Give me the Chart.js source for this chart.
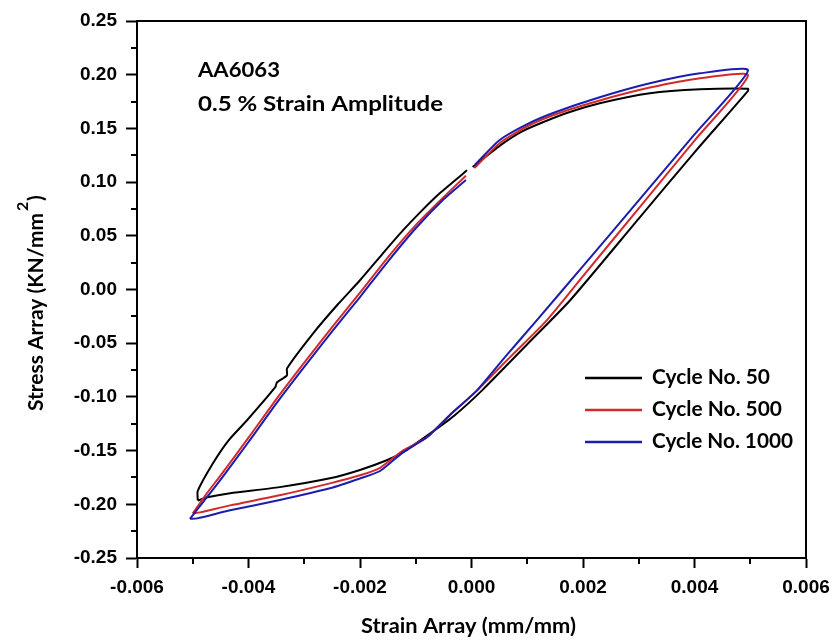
<!DOCTYPE html>
<html>
<head>
<meta charset="utf-8">
<script src="https://cdn.jsdelivr.net/npm/chart.js@4.4.1/dist/chart.umd.min.js"></script>
<style>
  html, body { margin: 0; padding: 0; background: #fff; }
  #wrap { width: 832px; height: 642px; }
</style>
</head>
<body>
<div id="wrap"><canvas id="c" width="832" height="642"></canvas></div>
<script>
// hysteresis loops: upper branch first, then lower branch back to the start
// a null stress marks the small break in the upper branch near zero strain
const cycle50Strain = [-0.00491, -0.00491, -0.00464, -0.00435, -0.00403, -0.00352, -0.00349, -0.00331, -0.00331, -0.00284, -0.00240, -0.00200, -0.00160, -0.00123, -0.00090, -0.00057, -0.00008, -0.00003, 0.00002, 0.00051, 0.00090, 0.00128, 0.00175, 0.00230, 0.00320, 0.00410, 0.00496,
  0.00496, 0.00400, 0.00300, 0.00177, 0.00100, 0.00019, -0.00030, -0.00074, -0.00123, -0.00152, -0.00200, -0.00254, -0.00344, -0.00433, -0.00474, -0.00491];
const cycle50Stress = [-0.1965, -0.1875, -0.1620, -0.1400, -0.1220, -0.0910, -0.0866, -0.0800, -0.0735, -0.0408, -0.0140, 0.0086, 0.0330, 0.0550, 0.0730, 0.0896, 0.1110, null, 0.1140, 0.1340, 0.1470, 0.1557, 0.1650, 0.1734, 0.1827, 0.1864, 0.1870,
  0.1850, 0.1277, 0.0660, -0.0100, -0.0510, -0.0939, -0.1170, -0.1340, -0.1516, -0.1590, -0.1680, -0.1758, -0.1840, -0.1897, -0.1935, -0.1965];

const cycle500Strain = [-0.00500, -0.00475, -0.00450, -0.00400, -0.00350, -0.00300, -0.00250, -0.00200, -0.00150, -0.00100, -0.00050, -0.00010, -0.00003, 0.00005, 0.00050, 0.00100, 0.00150, 0.00230, 0.00320, 0.00410, 0.00496,
  0.00400, 0.00300, 0.00200, 0.00135, 0.00070, 0.00010, -0.00039, -0.00080, -0.00123, -0.00164, -0.00200, -0.00254, -0.00344, -0.00433, -0.00487, -0.00500];
const cycle500Stress = [-0.2085, -0.1900, -0.1730, -0.1380, -0.1020, -0.0680, -0.0350, -0.0030, 0.0300, 0.0600, 0.0860, 0.1060, null, 0.1130, 0.1360, 0.1520, 0.1630, 0.1760, 0.1880, 0.1967, 0.1994,
  0.1387, 0.0756, 0.0124, -0.0287, -0.0625, -0.0939, -0.1170, -0.1376, -0.1500, -0.1660, -0.1730, -0.1805, -0.1916, -0.2010, -0.2075, -0.2085];

const cycle1000Strain = [-0.00505, -0.00480, -0.00450, -0.00400, -0.00350, -0.00300, -0.00250, -0.00200, -0.00150, -0.00100, -0.00050, -0.00010, -0.00003, 0.00006, 0.00050, 0.00100, 0.00150, 0.00230, 0.00320, 0.00410, 0.00496,
  0.00400, 0.00300, 0.00200, 0.00117, 0.00060, 0.00010, -0.00039, -0.00080, -0.00123, -0.00164, -0.00200, -0.00254, -0.00344, -0.00433, -0.00492, -0.00505];
const cycle1000Stress = [-0.2135, -0.1970, -0.1770, -0.1420, -0.1060, -0.0720, -0.0390, -0.0070, 0.0260, 0.0570, 0.0840, 0.1020, null, 0.1160, 0.1390, 0.1540, 0.1650, 0.1790, 0.1920, 0.2013, 0.2040,
  0.1444, 0.0830, 0.0217, -0.0287, -0.0630, -0.0939, -0.1170, -0.1376, -0.1516, -0.1690, -0.1760, -0.1851, -0.1960, -0.2056, -0.2131, -0.2135];

const seriesLabels = ['Cycle No. 50', 'Cycle No. 500', 'Cycle No. 1000'];
const seriesColors = ['#000000', '#d22a2a', '#1c1cae'];
const noteLines = ['AA6063', '0.5 % Strain Amplitude'];
const xTitle = 'Strain Array (mm/mm)';
const yTitle = ['Stress Array (KN/mm', '2', ')'];

const TICK_FONT = { family: 'Liberation Sans', weight: 'bold', size: 19 };
const TEXT_FAMILY = 'Lato';

const toPoints = (xs, ys) => xs.map((x, i) => ({ x, y: ys[i] }));

const loopData = [
  toPoints(cycle50Strain, cycle50Stress),
  toPoints(cycle500Strain, cycle500Stress),
  toPoints(cycle1000Strain, cycle1000Stress),
];

// text squeezed/stretched to the width it takes in the picture
function fitText(ctx, text, x, y, size, width) {
  ctx.font = `bold ${size}px ${TEXT_FAMILY}`;
  const w = ctx.measureText(text).width;
  ctx.save();
  ctx.translate(x, y);
  ctx.scale(width / w, 1);
  ctx.fillText(text, 0, 0);
  ctx.restore();
}

// frame, minor ticks, axis titles, notes and legend
const extras = {
  id: 'extras',
  afterDraw(chart) {
    const { ctx, chartArea: a, scales: { x, y } } = chart;
    ctx.save();
    ctx.strokeStyle = '#000';
    ctx.lineWidth = 2;
    ctx.strokeRect(a.left, a.top, a.right - a.left, a.bottom - a.top);

    // minor ticks
    ctx.beginPath();
    for (let v = -0.005; v < 0.0055; v += 0.002) {
      const px = Math.round(x.getPixelForValue(v));
      ctx.moveTo(px, a.bottom); ctx.lineTo(px, a.bottom + 6);
    }
    for (let v = -0.225; v < 0.23; v += 0.05) {
      const py = Math.round(y.getPixelForValue(v));
      ctx.moveTo(a.left, py); ctx.lineTo(a.left - 6, py);
    }
    ctx.stroke();

    ctx.fillStyle = '#000';
    ctx.textAlign = 'left';

    // x title
    ctx.textBaseline = 'middle';
    fitText(ctx, xTitle, 361, 627, 20, 215);

    // y title, rotated, with raised 2
    ctx.save();
    ctx.translate(43, 411);
    ctx.rotate(-Math.PI / 2);
    ctx.textBaseline = 'alphabetic';
    fitText(ctx, yTitle[0], 0, 0, 21, 198);
    ctx.font = `bold 16px ${TEXT_FAMILY}`;
    ctx.fillText(yTitle[1], 200, -15);
    ctx.font = `bold 21px ${TEXT_FAMILY}`;
    ctx.fillText(yTitle[2], 210, 0);
    ctx.restore();

    // notes
    ctx.textBaseline = 'middle';
    fitText(ctx, noteLines[0], 198, 71, 20, 82);
    fitText(ctx, noteLines[1], 198, 105, 20, 245);

    // legend
    const legendWidths = [118, 130, 141];
    seriesLabels.forEach((label, i) => {
      const ly = 378 + i * 32;
      ctx.strokeStyle = seriesColors[i];
      ctx.lineWidth = 2.5;
      ctx.beginPath();
      ctx.moveTo(585, ly); ctx.lineTo(642, ly);
      ctx.stroke();
      fitText(ctx, label, 652, ly, 20, legendWidths[i]);
    });
    ctx.restore();
  }
};

new Chart(document.getElementById('c'), {
  type: 'scatter',
  data: {
    datasets: loopData.map((d, i) => ({
      label: seriesLabels[i],
      data: d,
      showLine: true,
      spanGaps: false,
      borderColor: seriesColors[i],
      backgroundColor: seriesColors[i],
      borderWidth: 2,
      pointRadius: 0,
      tension: 0.2,
      order: 3 - i,
    })),
  },
  options: {
    responsive: false,
    animation: false,
    devicePixelRatio: 1,
    layout: { padding: { top: 21, right: 26, left: 0, bottom: 0 } },
    plugins: { legend: { display: false }, tooltip: { enabled: false } },
    scales: {
      x: {
        type: 'linear', min: -0.006, max: 0.006,
        ticks: {
          stepSize: 0.002, color: '#000', font: TICK_FONT, padding: 8, maxRotation: 0,
          callback: v => (Math.abs(v) < 1e-9 ? 0 : v).toFixed(3),
        },
        grid: { drawOnChartArea: false, drawTicks: true, tickLength: 10, tickWidth: 2, tickColor: '#000' },
        border: { display: true, width: 2, color: '#000' },
        afterFit: s => { s.height = 84; s.paddingLeft = 0; s.paddingRight = 0; },
      },
      y: {
        type: 'linear', min: -0.25, max: 0.25,
        ticks: {
          stepSize: 0.05, color: '#000', font: TICK_FONT, padding: 9,
          callback: v => (Math.abs(v) < 1e-9 ? 0 : v).toFixed(2),
        },
        grid: { drawOnChartArea: false, drawTicks: true, tickLength: 11, tickWidth: 2, tickColor: '#000' },
        border: { display: true, width: 2, color: '#000' },
        afterFit: s => { s.width = 137; s.paddingTop = 0; s.paddingBottom = 0; },
      },
    },
  },
  plugins: [extras],
});
</script>
</body>
</html>
